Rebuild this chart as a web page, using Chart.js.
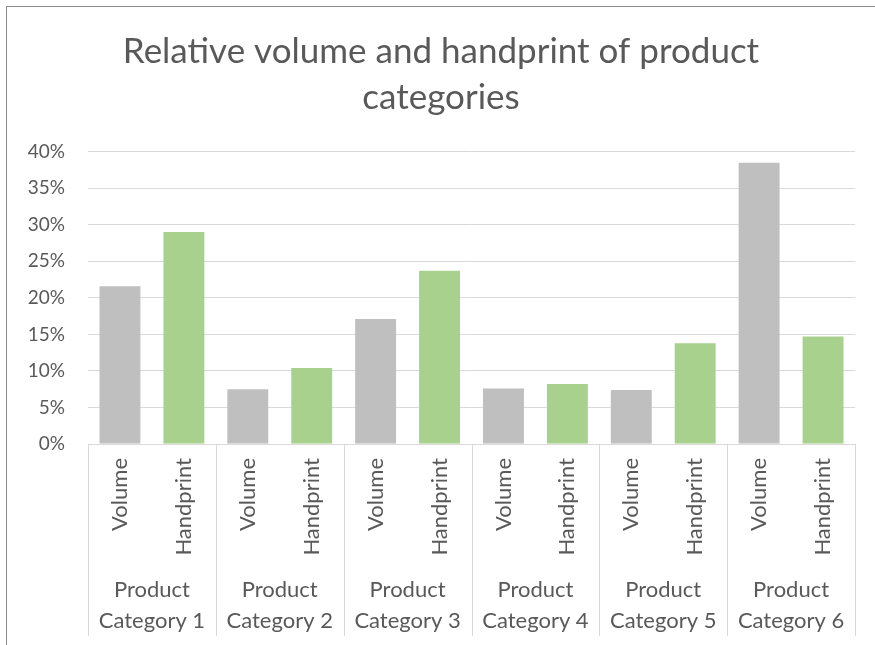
<!DOCTYPE html>
<html>
<head>
<meta charset="utf-8">
<script src="https://cdn.jsdelivr.net/npm/chart.js@4/dist/chart.umd.min.js"></script>
<style>
  body { margin: 0; background: #fff; }
  #wrap { position: relative; width: 875px; height: 645px; }
  #frame { position: absolute; left: 6px; top: 6px; right: 0; bottom: 0; border-left: 1px solid #8c8c8c; border-top: 1px solid #8c8c8c; pointer-events: none; }
  canvas { position: absolute; left: 0; top: 0; }
</style>
</head>
<body>
<div id="wrap">
  <canvas id="chart" width="875" height="645"></canvas>
  <div id="frame"></div>
</div>
<script>
const categories = ['Product Category 1', 'Product Category 2', 'Product Category 3', 'Product Category 4', 'Product Category 5', 'Product Category 6'];
const subLabels = ['Volume', 'Handprint'];
const volume = [21.6, 7.5, 17.1, 7.6, 7.4, 38.5];
const handprint = [29.0, 10.4, 23.7, 8.2, 13.8, 14.7];
const colors = ['#bfbfbf', '#a9d18e'];

// flatten to one bar per slot: Volume, Handprint, Volume, ...
const labels = [];
const values = [];
const barColors = [];
categories.forEach((c, i) => {
  labels.push(subLabels[0], subLabels[1]);
  values.push(volume[i], handprint[i]);
  barColors.push(colors[0], colors[1]);
});

const font = 'Lato';
const textColor = '#595959';

// vertical dividers between the product categories, below the axis
const dividers = {
  id: 'dividers',
  afterDraw(chart) {
    const x2 = chart.scales.x2;
    const ctx = chart.ctx;
    const n = categories.length;
    const step = (x2.right - x2.left) / n;
    ctx.save();
    ctx.strokeStyle = '#d9d9d9';
    ctx.lineWidth = 1;
    ctx.beginPath();
    for (let i = 0; i <= n; i++) {
      const x = Math.round(x2.left + i * step) + 0.5;
      ctx.moveTo(x, chart.chartArea.bottom);
      ctx.lineTo(x, x2.bottom);
    }
    ctx.stroke();
    ctx.restore();
  }
};

new Chart(document.getElementById('chart'), {
  type: 'bar',
  data: {
    labels: labels,
    datasets: [{
      data: values,
      backgroundColor: barColors,
      barPercentage: 0.64,
      categoryPercentage: 1
    }]
  },
  options: {
    responsive: false,
    animation: false,
    layout: { autoPadding: false, padding: { left: 27, right: 20, top: 0, bottom: 9 } },
    plugins: {
      legend: { display: false },
      tooltip: { enabled: false },
      title: {
        display: true,
        text: ['Relative volume and handprint of product', 'categories'],
        color: textColor,
        font: { family: font, size: 35, weight: 'normal', lineHeight: 1.31 },
        padding: { top: 29, bottom: 31 }
      }
    },
    scales: {
      y: {
        min: 0,
        max: 40,
        afterFit: s => { s.width = 61; },
        ticks: {
          stepSize: 5,
          padding: 23,
          color: textColor,
          font: { family: font, size: 19 },
          callback: v => v + '%'
        },
        grid: { color: '#d9d9d9', lineWidth: 1, drawTicks: false },
        border: { display: false }
      },
      x: {
        afterFit: s => { s.height = 110; },
        ticks: {
          minRotation: 90,
          maxRotation: 90,
          autoSkip: false,
          padding: 14,
          color: textColor,
          font: { family: font, size: 22 }
        },
        grid: { display: false, drawTicks: false },
        border: { display: false }
      },
      x2: {
        type: 'category',
        position: 'bottom',
        labels: categories.map(c => {
          const k = c.lastIndexOf(' Category');
          return [c.slice(0, k), c.slice(k + 1)];
        }),
        offset: true,
        afterFit: s => { s.height = 82; },
        ticks: {
          padding: 20,
          color: textColor,
          font: { family: font, size: 22, lineHeight: 1.41 },
          maxRotation: 0
        },
        grid: { display: false, drawTicks: false },
        border: { display: false }
      }
    }
  },
  plugins: [dividers]
});
</script>
</body>
</html>
